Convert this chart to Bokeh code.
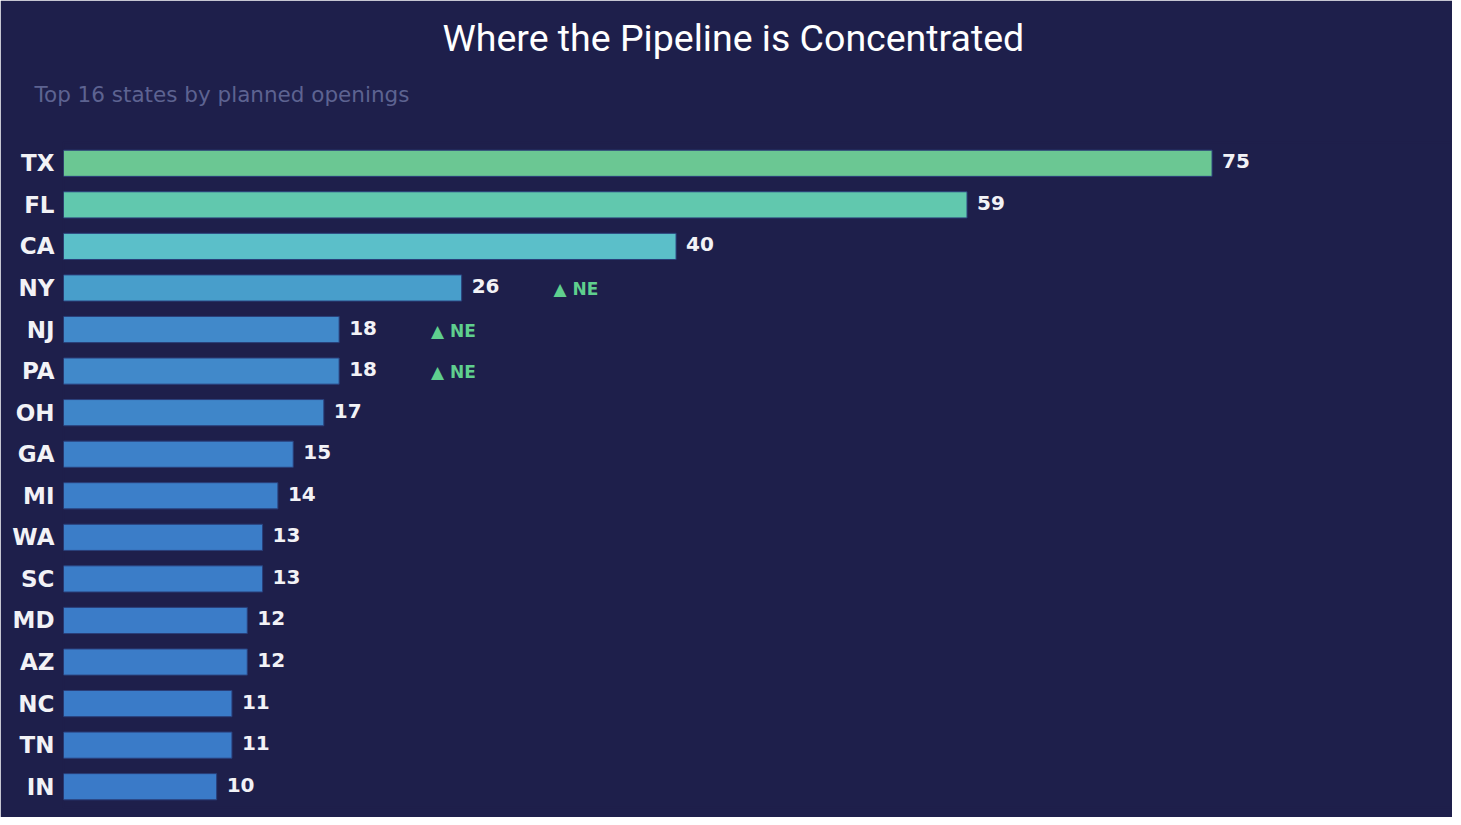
from bokeh.plotting import figure
from bokeh.models import ColumnDataSource, Title, FactorRange, Range1d
from bokeh.core.properties import value
from bokeh.embed import file_html
from bokeh.resources import INLINE

states = ["TX", "FL", "CA", "NY", "NJ", "PA", "OH", "GA", "MI", "WA", "SC", "MD", "AZ", "NC", "TN", "IN"]
openings = [75, 59, 40, 26, 18, 18, 17, 15, 14, 13, 13, 12, 12, 11, 11, 10]
bar_colors = ["#6bc793", "#61c8ae", "#5bbfc9", "#489ecb", "#4189ca", "#4189ca", "#3f86c9", "#3d81c9",
              "#3c7fc9", "#3b7dc8", "#3b7dc8", "#3b7cc8", "#3b7cc8", "#3a7bc8", "#3a7bc8", "#3a7ac8"]
ne_states = ["NY", "NJ", "PA"]
ne_values = [26, 18, 18]
ne_label = "▲ NE"

BG = "#1e1f4b"

src = ColumnDataSource(dict(state=states, v=openings, color=bar_colors,
                            lbl=[str(x) for x in openings]))
ne_src = ColumnDataSource(dict(state=ne_states, v=[x + 6 for x in ne_values],
                               lbl=[ne_label] * len(ne_states)))

p = figure(width=1452, height=817, output_backend="svg", toolbar_location=None,
           y_range=FactorRange(*reversed(states), range_padding=0),
           x_range=Range1d(0, 90.7),
           min_border_left=63, min_border_right=0, min_border_top=141, min_border_bottom=10)
p.background_fill_color = BG
p.border_fill_color = BG
p.outline_line_color = BG
p.outline_line_width = 2
p.grid.visible = False
p.xaxis.visible = False

p.hbar(y="state", right="v", left=0, height=0.63, fill_color="color",
       line_color="#2a3f7a", line_width=1, source=src)
p.text(x="v", y="state", text="lbl", source=src, x_offset=10, y_offset=-2,
       text_baseline="middle", text_align="left", text_color="#f2f2f6",
       text_font=value("DejaVu Sans"), text_font_style="bold", text_font_size="20px")
p.text(x="v", y="state", text="lbl", source=ne_src, x_offset=0, y_offset=1,
       text_baseline="middle", text_align="left", text_color="#5fcf8e",
       text_font=value("DejaVu Sans"), text_font_style="bold", text_font_size="17px")

ya = p.yaxis[0]
ya.axis_line_color = None
ya.major_tick_line_color = None
ya.minor_tick_line_color = None
ya.major_label_text_color = "#f2f2f6"
ya.major_label_text_font = "DejaVu Sans"
ya.major_label_text_font_style = "bold"
ya.major_label_text_font_size = "23px"
ya.major_label_standoff = 3

p.title.text = ""
p.title.visible = False

spacer = Title(text=" ", text_font_size="10px", text_color=BG, standoff=16)
p.add_layout(spacer, "above")
sub = Title(text="Top 16 states by planned openings", align="left", offset=-29,
            text_color="#5d6391", text_font="DejaVu Sans", text_font_style="normal",
            text_font_size="21.5px", standoff=14)
p.add_layout(sub, "above")
main = Title(text="Where the Pipeline is Concentrated", align="left", offset=379,
             text_color="#ffffff", text_font="Roboto", text_font_style="normal",
             text_font_size="37.5px", standoff=26)
p.add_layout(main, "above")

open("out.html", "w").write(file_html(p, INLINE))
